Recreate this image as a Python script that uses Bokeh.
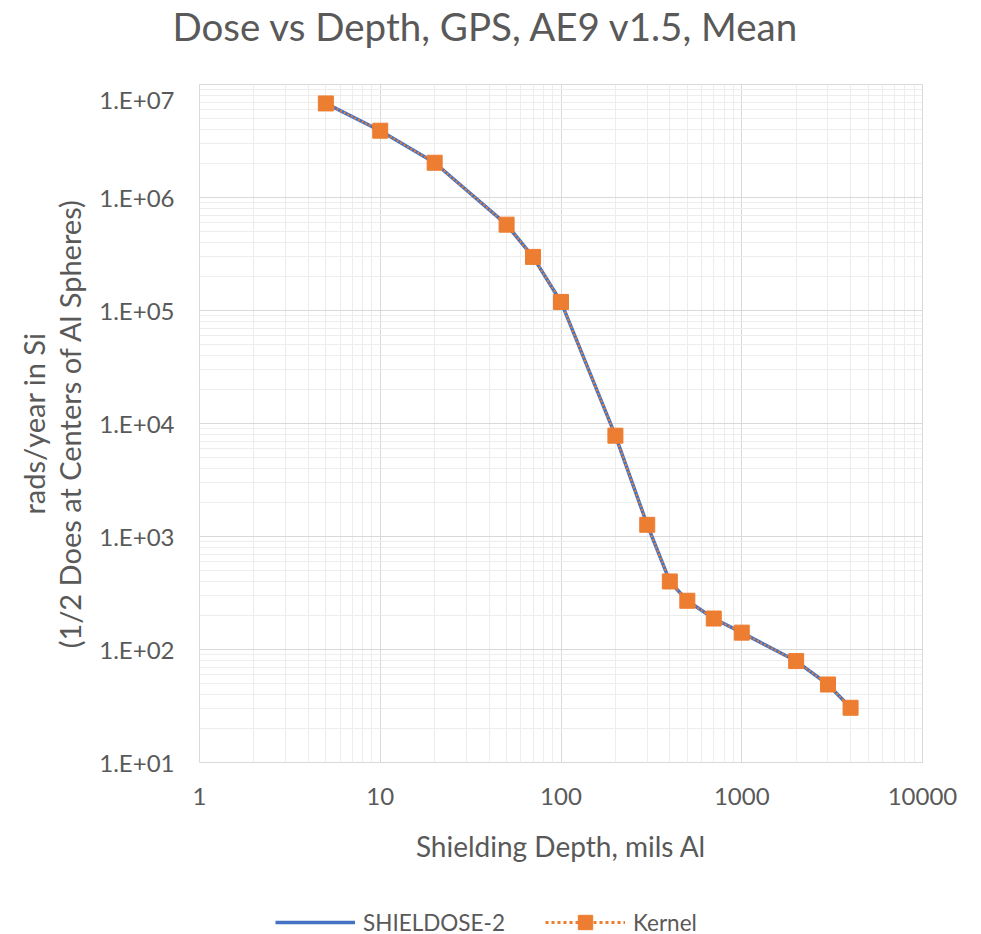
from bokeh.plotting import figure
from bokeh.layouts import column
from bokeh.models import (FixedTicker, CustomJSTickFormatter, Legend, LegendItem,
                          Range1d)
from bokeh.embed import file_html
from bokeh.resources import INLINE

depth_mils = [5, 10, 20, 50, 70, 100, 200, 300, 400, 500, 700, 1000, 2000, 3000, 4000]
dose_shieldose2 = [6.8e6, 3.9e6, 2.03e6, 5.75e5, 2.98e5, 1.19e5, 7.8e3, 1.27e3, 400, 270, 188, 141, 79, 49, 30.5]
dose_kernel = [6.8e6, 3.9e6, 2.03e6, 5.75e5, 2.98e5, 1.19e5, 7.8e3, 1.27e3, 400, 270, 188, 141, 79, 49, 30.5]

x_major = [1, 10, 100, 1000, 10000]
y_major = [1e1, 1e2, 1e3, 1e4, 1e5, 1e6, 1e7]

title_text = "Dose vs Depth, GPS, AE9 v1.5, Mean"
x_label = "Shielding Depth, mils Al"
y_label = "rads/year in Si\n(1/2 Does at Centers of Al Spheres)"
series_names = ["SHIELDOSE-2", "Kernel"]

FONT = "Lato"
GRAY = "#595959"
BLUE = "#4472C4"
ORANGE = "#ED7D31"

TOP_H = 84
LEG_H = 50

# ---- title strip ----
tf = figure(width=981, height=TOP_H, x_range=Range1d(0, 1), y_range=Range1d(0, 1),
            output_backend="svg", toolbar_location=None,
            x_axis_location=None, y_axis_location=None, min_border=0)
tf.outline_line_color = None
tf.grid.visible = False
tf.title.text = title_text
tf.title.align = "left"
tf.title.offset = -27
tf.title.text_font = FONT
tf.title.text_font_size = "38.5px"
tf.title.text_color = GRAY
tf.title.text_font_style = "normal"
tf.title.standoff = 0

# ---- main chart ----
p = figure(width=981, height=934 - TOP_H - LEG_H, x_axis_type="log", y_axis_type="log",
           x_range=Range1d(1, 10000), y_range=Range1d(10, 1e7),
           output_backend="svg", toolbar_location=None,
           min_border_left=199, min_border_right=59, min_border_top=0,
           min_border_bottom=172 - LEG_H)
p.background_fill_color = "white"
p.border_fill_color = "white"
p.outline_line_color = "#d9d9d9"

def minors(majors):
    out = []
    for m in majors[:-1]:
        out += [m * k for k in range(2, 10)]
    return out

p.xaxis.ticker = FixedTicker(ticks=x_major, minor_ticks=minors(x_major))
p.yaxis.ticker = FixedTicker(ticks=y_major, minor_ticks=minors(y_major))
p.xaxis.formatter = CustomJSTickFormatter(code="return String(Math.round(tick));")
p.yaxis.formatter = CustomJSTickFormatter(
    code="var e = Math.round(Math.log10(tick)); return '1.E+' + (e < 10 ? '0' : '') + e;")

for ax in (p.xaxis[0], p.yaxis[0]):
    ax.axis_line_color = None
    ax.major_tick_line_color = None
    ax.minor_tick_line_color = None
    ax.major_tick_out = 0
    ax.minor_tick_out = 0
    ax.major_label_text_font = FONT
    ax.major_label_text_font_size = "24px"
    ax.major_label_text_color = GRAY
    ax.axis_label_text_font = FONT
    ax.axis_label_text_color = GRAY
    ax.axis_label_text_font_style = "normal"

p.xaxis.axis_label_text_font_size = "28px"
p.yaxis.axis_label_text_font_size = "29px"
p.yaxis.axis_label_text_line_height = 1.05
p.xaxis.major_label_standoff = 25
p.yaxis.major_label_standoff = 25
p.xaxis.axis_label = x_label
p.yaxis.axis_label = y_label
p.xaxis.axis_label_standoff = 21
p.yaxis.axis_label_standoff = 9

for g in (p.xgrid[0], p.ygrid[0]):
    g.grid_line_color = "#d9d9d9"
    g.grid_line_width = 1
    g.minor_grid_line_color = "#ededed"
    g.minor_grid_line_width = 1

line_style_sd = dict(line_color=BLUE, line_width=3.5)
line_style_k = dict(line_color=ORANGE, line_width=2, line_dash="2 2")
marker_style_k = dict(marker="square", size=15, fill_color=ORANGE, line_color=ORANGE)

p.line(depth_mils, dose_shieldose2, **line_style_sd)
p.line(depth_mils, dose_kernel, **line_style_k)
p.scatter(depth_mils, dose_kernel, **marker_style_k)

# ---- legend strip ----
lg = figure(width=981, height=LEG_H, x_range=Range1d(0, 1), y_range=Range1d(0, 1),
            output_backend="svg", toolbar_location=None,
            x_axis_location=None, y_axis_location=None, min_border=0)
lg.outline_line_color = None
lg.grid.visible = False
lg.background_fill_color = "white"
lg.border_fill_color = "white"
nan = float("nan")
l_sd = lg.line([nan], [nan], **line_style_sd)
l_kl = lg.line([nan], [nan], line_color=ORANGE, line_width=3, line_dash="3 3")
l_km = lg.scatter([nan], [nan], **marker_style_k)
legend = Legend(items=[LegendItem(label=series_names[0], renderers=[l_sd]),
                       LegendItem(label=series_names[1], renderers=[l_kl, l_km])],
                orientation="horizontal", location=(76, -6),
                glyph_width=80, glyph_height=36, label_text_font=FONT,
                label_text_font_size="22.5px", label_text_color=GRAY,
                label_height=24,
                border_line_color=None, background_fill_alpha=0,
                spacing=40, padding=0, margin=0, label_standoff=8)
lg.add_layout(legend, "center")

open("out.html", "w").write(file_html(column(tf, p, lg, spacing=0), INLINE))
